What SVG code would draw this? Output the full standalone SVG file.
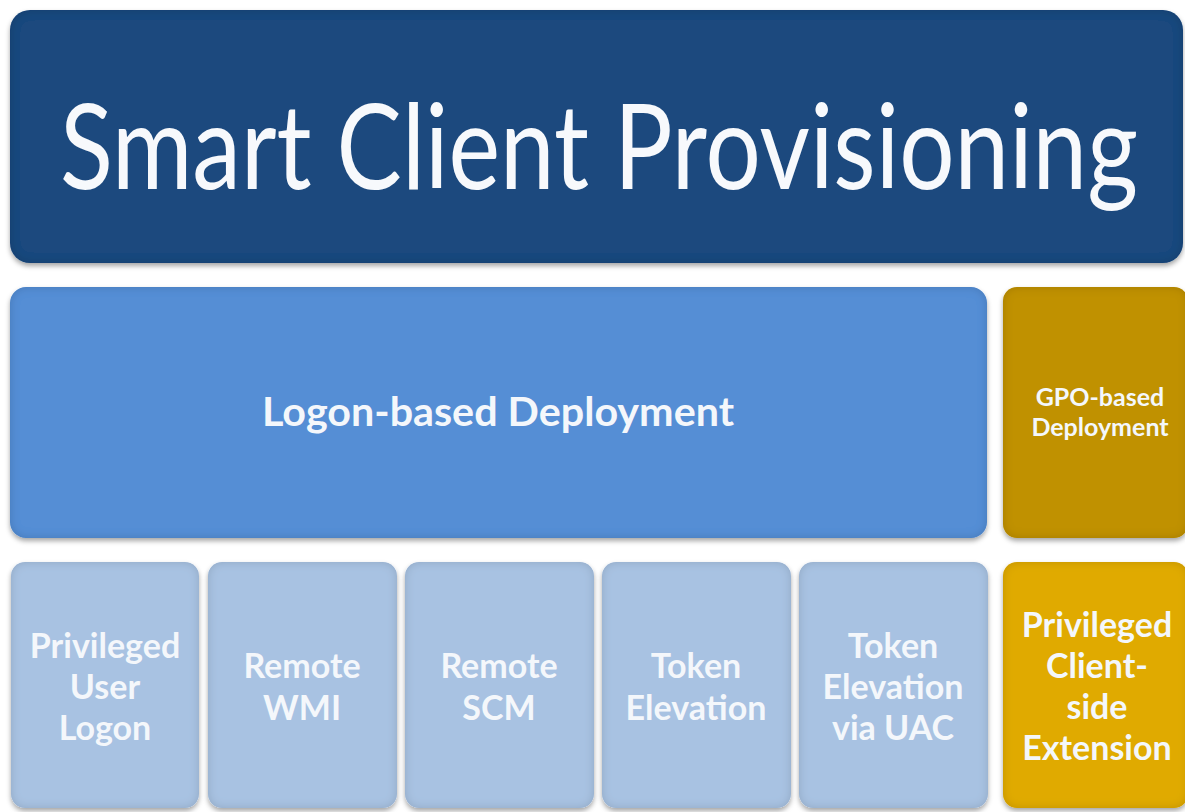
<svg xmlns="http://www.w3.org/2000/svg" width="1185" height="812" viewBox="0 0 1185 812">
  <style>
    .lbl { font-family: Lato, "Open Sans", "Liberation Sans", sans-serif; font-weight: 700; fill: #f4f7fb; text-anchor: middle; }
    .title { font-family: Lato, "Open Sans", "Liberation Sans", sans-serif; font-weight: 400; fill: #f7f9fc; }
    .dark { fill: #1f4a7e; }
    .mid { fill: #558ed5; }
    .light { fill: #a8c2e2; }
    .goldD { fill: #c09100; }
    .goldL { fill: #e0aa04; }
  </style>
  <defs>
    <!-- soft bevel: darker inner rim plus a small drop shadow -->
    <filter id="bevel" x="-5%" y="-5%" width="110%" height="115%">
      <feGaussianBlur in="SourceAlpha" stdDeviation="5" result="blur"/>
      <feComposite in="SourceAlpha" in2="blur" operator="arithmetic" k2="1" k3="-1" result="rim"/>
      <feFlood flood-color="#000" flood-opacity="0.3"/>
      <feComposite in2="rim" operator="in" result="inner"/>
      <feGaussianBlur in="SourceAlpha" stdDeviation="2.5" result="sblur"/>
      <feOffset in="sblur" dx="0" dy="3" result="soff"/>
      <feFlood flood-color="#000" flood-opacity="0.35"/>
      <feComposite in2="soff" operator="in" result="shadow"/>
      <feMerge>
        <feMergeNode in="shadow"/>
        <feMergeNode in="SourceGraphic"/>
        <feMergeNode in="inner"/>
      </feMerge>
    </filter>
  </defs>
  <rect width="1185" height="812" fill="#ffffff"/>

  <g id="title-bar" filter="url(#bevel)">
    <rect class="dark" x="10" y="10" width="1173" height="253" rx="20"/>
  </g>
  <text class="title" x="60" y="189" font-size="118" textLength="1078" lengthAdjust="spacingAndGlyphs">Smart Client Provisioning</text>

  <g id="logon-based" filter="url(#bevel)">
    <rect class="mid" x="10" y="287" width="977" height="251" rx="16"/>
  </g>
  <text class="lbl" x="498" y="426" font-size="40" textLength="472" lengthAdjust="spacingAndGlyphs">Logon-based Deployment</text>

  <g id="gpo-based" filter="url(#bevel)">
    <rect class="goldD" x="1003" y="287" width="185" height="251" rx="14"/>
  </g>
  <text class="lbl" x="1100" y="406" font-size="25">GPO-based</text>
  <text class="lbl" x="1100" y="436" font-size="25">Deployment</text>

  <g id="privileged-user-logon" filter="url(#bevel)">
    <rect class="light" x="11" y="562" width="188" height="246" rx="14"/>
  </g>
  <text class="lbl" x="105" y="658" font-size="34">Privileged</text>
  <text class="lbl" x="105" y="699" font-size="34">User</text>
  <text class="lbl" x="105" y="740" font-size="34">Logon</text>

  <g id="remote-wmi" filter="url(#bevel)">
    <rect class="light" x="208" y="562" width="189" height="246" rx="14"/>
  </g>
  <text class="lbl" x="302" y="678" font-size="34">Remote</text>
  <text class="lbl" x="302" y="720" font-size="34">WMI</text>

  <g id="remote-scm" filter="url(#bevel)">
    <rect class="light" x="405" y="562" width="189" height="246" rx="14"/>
  </g>
  <text class="lbl" x="499" y="678" font-size="34">Remote</text>
  <text class="lbl" x="499" y="720" font-size="34">SCM</text>

  <g id="token-elevation" filter="url(#bevel)">
    <rect class="light" x="602" y="562" width="189" height="246" rx="14"/>
  </g>
  <text class="lbl" x="696" y="678" font-size="34">Token</text>
  <text class="lbl" x="696" y="720" font-size="34">Elevation</text>

  <g id="token-elevation-uac" filter="url(#bevel)">
    <rect class="light" x="799" y="562" width="189" height="246" rx="14"/>
  </g>
  <text class="lbl" x="893" y="658" font-size="34">Token</text>
  <text class="lbl" x="893" y="699" font-size="34">Elevation</text>
  <text class="lbl" x="893" y="740" font-size="34">via UAC</text>

  <g id="client-side-extension" filter="url(#bevel)">
    <rect class="goldL" x="1003" y="562" width="185" height="246" rx="14"/>
  </g>
  <text class="lbl" x="1097" y="637" font-size="34">Privileged</text>
  <text class="lbl" x="1097" y="678" font-size="34">Client-</text>
  <text class="lbl" x="1097" y="719" font-size="34">side</text>
  <text class="lbl" x="1097" y="760" font-size="34">Extension</text>

  <g id="connectors"/>
</svg>
